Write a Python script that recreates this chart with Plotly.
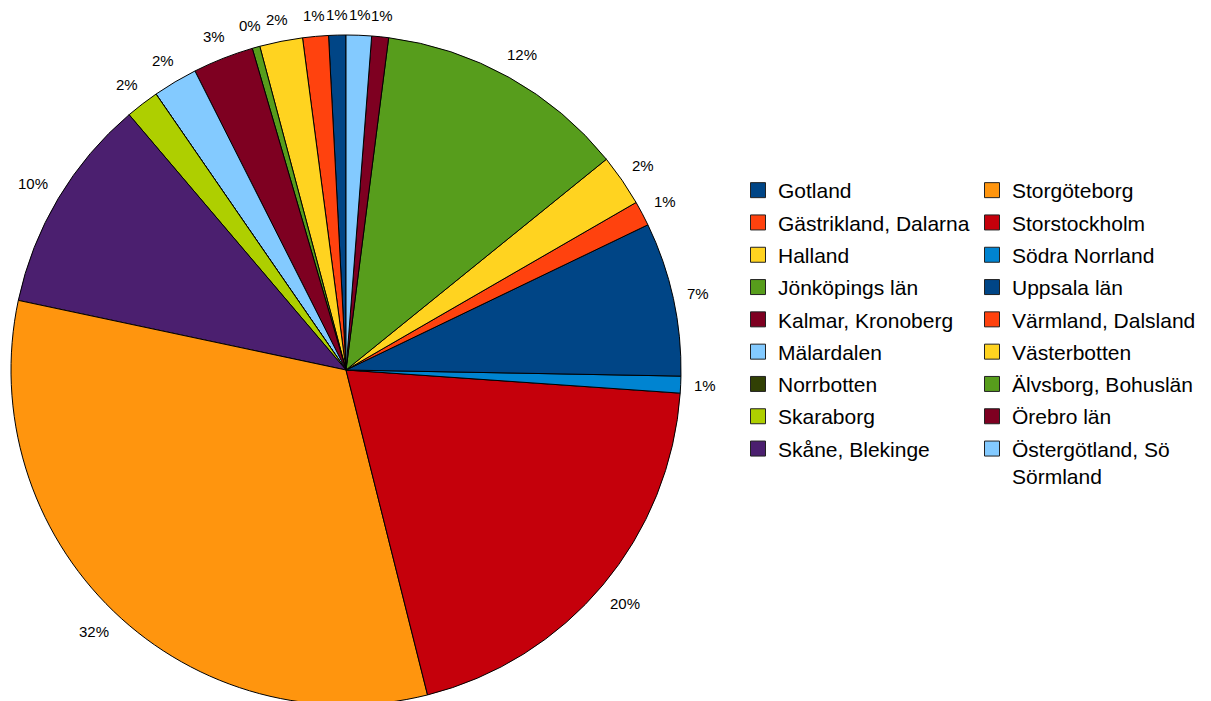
import math
import plotly.graph_objects as go

regions = ["Gotland", "Gästrikland, Dalarna", "Halland", "Jönköpings län",
           "Kalmar, Kronoberg", "Mälardalen", "Norrbotten", "Skaraborg",
           "Skåne, Blekinge", "Storgöteborg", "Storstockholm", "Södra Norrland",
           "Uppsala län", "Värmland, Dalsland", "Västerbotten",
           "Älvsborg, Bohuslän", "Örebro län", "Östergötland, Sö Sörmland"]
legend_labels = regions[:-1] + ["Östergötland, Sö<br>Sörmland"]
shares = [0.83, 1.24, 2.07, 0.37, 2.93, 2.15, 0.0, 1.61, 10.45, 32.22, 19.97,
          0.81, 7.42, 1.20, 2.49, 12.13, 0.81, 1.22]
palette = ["#004586", "#ff420e", "#ffd320", "#579d1c", "#7e0021", "#83caff",
           "#314004", "#aecf00", "#4b1f6f", "#ff950e", "#c5000b", "#0084d1"]
colors = [palette[i % len(palette)] for i in range(len(regions))]

W, H = 1211, 706
CX, CY, R = 346, 370, 335
FONT = "Liberation Sans, Arial, sans-serif"

total = sum(shares)
# plotly offsets the first slice when counterclockwise; undo it so that the
# first slice starts at 12 o'clock like the original
rot = -360.0 * shares[0] / total

fig = go.Figure()
fig.add_trace(go.Pie(
    labels=regions, values=shares, sort=False, direction="counterclockwise",
    rotation=rot, textinfo="none", showlegend=False,
    marker=dict(colors=colors, line=dict(color="black", width=1)),
    domain=dict(x=[(CX - R) / W, (CX + R) / W], y=[1 - (CY + R) / H, 1 - (CY - R) / H]),
))

# legend entries (two columns like the original)
for i, (lab, c) in enumerate(zip(legend_labels, colors)):
    fig.add_trace(go.Scatter(
        x=[None], y=[None], mode="markers", name=lab,
        legend="legend" if i < 9 else "legend2", legendgroup=regions[i],
        marker=dict(symbol="square", size=15, color=c, line=dict(color="#222", width=1)),
    ))

# percentage labels positioned outside each slice
cum = 0.0
annotations = []
for v in shares:
    if v > 0:
        theta = 2 * math.pi * (cum + v / 2) / total
        txt = f"{round(100 * v / total)}%"
        w = 8.3 * (len(txt) - 1) + 13.3
        h = 14
        proj = abs(math.sin(theta)) * w / 2 + abs(math.cos(theta)) * h / 2
        rl = R + 13 + proj
        px = CX - rl * math.sin(theta)
        py = CY - rl * math.cos(theta)
        annotations.append(dict(x=px / W, y=1 - py / H, xref="paper", yref="paper",
                                text=txt, showarrow=False, xanchor="center", yanchor="middle",
                                font=dict(family=FONT, size=15, color="black")))
    cum += v

legend_common = dict(xanchor="left", yanchor="top", y=1 - 170 / H,
                     font=dict(family=FONT, size=21, color="black"),
                     bgcolor="rgba(0,0,0,0)", borderwidth=0, tracegroupgap=2,
                     itemsizing="trace", valign="top")
fig.update_layout(
    width=W, height=H, margin=dict(l=0, r=0, t=0, b=0),
    paper_bgcolor="white", plot_bgcolor="white",
    xaxis=dict(visible=False), yaxis=dict(visible=False),
    legend=dict(x=738 / W, **legend_common),
    legend2=dict(x=972 / W, **legend_common),
    annotations=annotations,
    font=dict(family=FONT),
)

fig.write_html("out.html", config={"displayModeBar": False}, post_script=(
    "document.body.style.margin='0';document.body.style.overflow='hidden';"
    "document.documentElement.style.overflow='hidden';"))
